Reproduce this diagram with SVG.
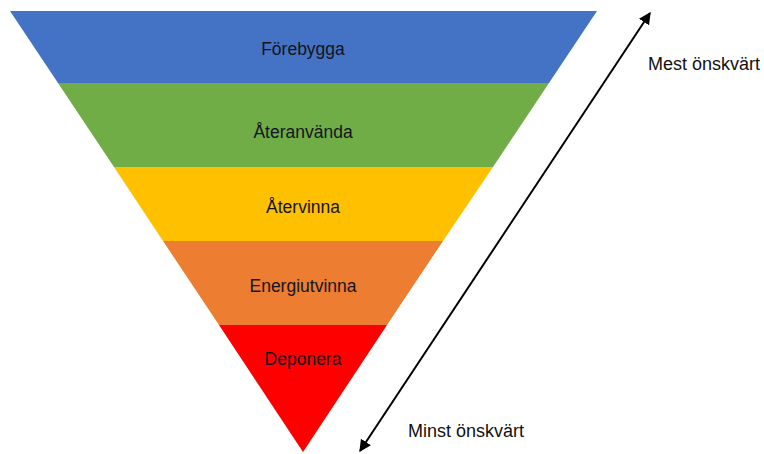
<svg xmlns="http://www.w3.org/2000/svg" width="764" height="454" viewBox="0 0 764 454">
<style>
text{font-family:"Liberation Sans",Arial,sans-serif;font-size:17.5px;fill:#141420}
.c{text-anchor:middle}
.s{font-size:18px;fill:#111}
</style>
<defs>
<marker id="ah" viewBox="0 0 10 10" refX="9" refY="5" markerWidth="6" markerHeight="6" orient="auto-start-reverse">
<path d="M0,0 L10,5 L0,10 z" fill="#000"/>
</marker>
</defs>
<rect width="764" height="454" fill="#fff"/>
<g id="forebygga">
<polygon points="10,11 597,11 549,83 58,83" fill="#4472C4"/>
<text class="c" x="303" y="55">Förebygga</text>
</g>
<g id="ateranvanda">
<polygon points="58,83 549,83 493,167 114,167" fill="#70AD47"/>
<text class="c" x="303" y="138">Återanvända</text>
</g>
<g id="atervinna">
<polygon points="114,167 493,167 443,241 163,241" fill="#FFC000"/>
<text class="c" x="303" y="213">Återvinna</text>
</g>
<g id="energiutvinna">
<polygon points="163,241 443,241 387,325 219,325" fill="#ED7D31"/>
<text class="c" x="303" y="292">Energiutvinna</text>
</g>
<g id="deponera">
<polygon points="219,325 387,325 303,452" fill="#FF0000"/>
<text class="c" x="303" y="365">Deponera</text>
</g>
<g id="connectors">
<line x1="360" y1="451" x2="650" y2="13" stroke="#000" stroke-width="2" marker-start="url(#ah)" marker-end="url(#ah)"/>
</g>
<g id="labels">
<text class="s" x="648" y="70">Mest önskvärt</text>
<text class="s" x="408" y="437">Minst önskvärt</text>
</g>
</svg>
